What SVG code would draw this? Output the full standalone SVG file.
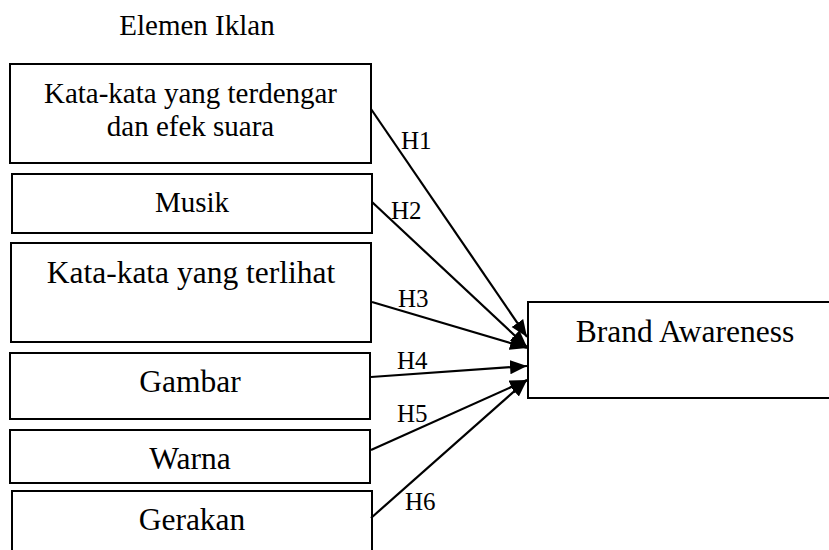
<svg xmlns="http://www.w3.org/2000/svg" width="829" height="550" viewBox="0 0 829 550">
<style>
.box{fill:#fff;stroke:#000;stroke-width:2}
.t{font-family:"Liberation Serif","Times New Roman",serif;fill:#000;text-anchor:middle}
.s29{font-size:29px}
.s31{font-size:31.5px}
.h{font-family:"Liberation Serif","Times New Roman",serif;font-size:25px;fill:#000}
.c{stroke:#000;stroke-width:2.2;fill:none;marker-end:url(#ah)}
</style>
<defs>
<marker id="ah" markerUnits="userSpaceOnUse" markerWidth="18" markerHeight="15" refX="17" refY="7" orient="auto">
<path d="M0,0 L17,7 L0,14 z" fill="#000"/>
</marker>
</defs>
<rect width="829" height="550" fill="#fff"/>
<text class="t s29" x="197" y="35">Elemen Iklan</text>
<g id="n1"><rect class="box" x="10" y="64" width="361" height="99"/><text class="t s29" x="190.5" y="103">Kata-kata yang terdengar</text><text class="t s29" x="190.5" y="136">dan efek suara</text></g>
<g id="n2"><rect class="box" x="12" y="174" width="360" height="59"/><text class="t s29" x="192" y="212">Musik</text></g>
<g id="n3"><rect class="box" x="11" y="243" width="360" height="99"/><text class="t s31" x="191" y="283">Kata-kata yang terlihat</text></g>
<g id="n4"><rect class="box" x="10" y="353" width="360" height="66"/><text class="t s31" x="190" y="392">Gambar</text></g>
<g id="n5"><rect class="box" x="10" y="430" width="360" height="53"/><text class="t s31" x="190" y="469">Warna</text></g>
<g id="n6"><rect class="box" x="12" y="491" width="360" height="70"/><text class="t s31" x="192" y="530">Gerakan</text></g>
<g id="target"><rect class="box" x="528" y="302" width="320" height="96"/><text class="t s31" x="685" y="342">Brand Awareness</text></g>
<g id="connectors">
<line class="c" x1="371" y1="109" x2="527" y2="337"/>
<line class="c" x1="372" y1="202" x2="527" y2="347"/>
<line class="c" x1="372" y1="302" x2="527" y2="348"/>
<line class="c" x1="371" y1="377" x2="527" y2="366"/>
<line class="c" x1="371" y1="450" x2="527" y2="380"/>
<line class="c" x1="371" y1="518" x2="527" y2="380"/>
<text class="h" x="401" y="149">H1</text>
<text class="h" x="391" y="219">H2</text>
<text class="h" x="398" y="307">H3</text>
<text class="h" x="397" y="369">H4</text>
<text class="h" x="397" y="422">H5</text>
<text class="h" x="405" y="510">H6</text>
</g>
</svg>
